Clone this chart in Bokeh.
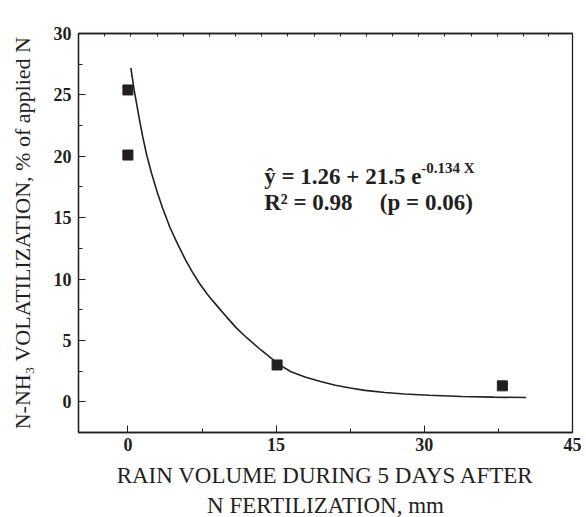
from bokeh.plotting import figure
from bokeh.models import Range1d, LinearAxis, FixedTicker, Label, Title, ColumnDataSource
from bokeh.embed import file_html
from bokeh.resources import INLINE

# ---- data ----
rain_mm = [0.0, 0.0, 15.1, 37.9]
volatilization = [25.4, 20.1, 3.0, 1.3]

curve_x = [0.3, 0.63, 0.9, 1.2, 1.5, 1.9, 2.4, 2.92, 3.5, 4.26, 5.0, 5.87, 6.5, 7.2,
           8.0, 8.62, 9.3, 10.0, 11.0, 12.0, 13.5, 15.27, 16.5, 18.0, 19.5, 21.0,
           22.5, 24.0, 26.0, 28.0, 30.5, 33.8, 37.0, 40.3]
curve_y = [27.2, 25.4, 24.2, 22.85, 21.6, 20.1, 18.6, 17.2, 15.8, 14.2, 12.9, 11.5,
           10.6, 9.7, 8.8, 8.2, 7.55, 6.9, 6.0, 5.24, 4.2, 3.05, 2.45, 2.0, 1.65,
           1.35, 1.12, 0.93, 0.76, 0.63, 0.53, 0.43, 0.38, 0.35]

x_ticks = [0, 15, 30, 45]
x_minor = [7.5, 22.5, 37.5]
y_ticks = [0, 5, 10, 15, 20, 25, 30]
y_minor = [-2.5, 2.5, 7.5, 12.5, 17.5, 22.5, 27.5]
top_ticks = [-2.36, 0.30, 2.98, 5.6, 8.29, 10.9, 13.55, 16.17, 18.86, 21.48,
             24.17, 26.74, 29.44, 32.05, 34.75, 37.4, 40.0, 42.6]

eq_line1 = "ŷ = 1.26 + 21.5 e"
eq_exp = "-0.134 X"
eq_r2 = "R² = 0.98"
eq_p = "(p = 0.06)"

x_title_line1 = "RAIN VOLUME DURING 5 DAYS AFTER"
x_title_line2 = "N FERTILIZATION, mm"
y_title = "N-NH₃ VOLATILIZATION, % of applied N"

INK = "#231f20"
SERIF = "Liberation Serif"

p = figure(width=586, height=517, x_range=Range1d(-5, 45), y_range=Range1d(-2.5, 30),
           output_backend="svg", toolbar_location=None,
           min_border_left=78, min_border_right=14, min_border_top=33, min_border_bottom=85)
p.grid.visible = False
p.background_fill_color = "white"
p.border_fill_color = "white"
p.outline_line_color = INK
p.outline_line_width = 1.3

for ax in (p.xaxis[0], p.yaxis[0]):
    ax.axis_line_color = INK
    ax.axis_line_width = 1.3
    ax.major_tick_line_color = INK
    ax.minor_tick_line_color = INK
    ax.major_tick_in = 7
    ax.major_tick_out = 0
    ax.minor_tick_in = 4
    ax.minor_tick_out = 0
    ax.major_label_text_font = SERIF
    ax.major_label_text_font_style = "bold"
    ax.major_label_text_font_size = "18px"
    ax.major_label_text_color = INK
    ax.axis_label_text_font = SERIF
    ax.axis_label_text_font_style = "normal"
    ax.axis_label_text_color = INK

p.xaxis.ticker = FixedTicker(ticks=x_ticks, minor_ticks=x_minor)
p.yaxis.ticker = FixedTicker(ticks=y_ticks, minor_ticks=y_minor)
p.xaxis.axis_label = x_title_line1
p.xaxis.axis_label_text_font_size = "23px"
p.xaxis.axis_label_text_line_height = 1.0
p.xaxis.major_label_standoff = 5
p.xaxis.axis_label_standoff = 9
p.yaxis.axis_label = y_title
p.yaxis.axis_label_text_font_size = "22px"
p.yaxis.major_label_standoff = 7
p.yaxis.axis_label_standoff = 16

top = LinearAxis(ticker=FixedTicker(ticks=top_ticks, minor_ticks=[]),
                 major_tick_in=3, major_tick_out=0, major_label_text_font_size="1px",
                 major_label_text_color=None, major_label_standoff=0,
                 axis_line_color=INK, axis_line_width=1.3, major_tick_line_color=INK)
p.add_layout(top, "above")

# second line of the x-axis title
p.add_layout(Title(text=x_title_line2, align="center", text_font=SERIF, text_font_size="23px",
                   text_font_style="normal", text_color=INK, text_line_height=1.0,
                   standoff=0, offset=0), "below")

p.line(curve_x, curve_y, line_color=INK, line_width=1.6)
src = ColumnDataSource(dict(x=rain_mm, y=volatilization))
p.scatter("x", "y", source=src, marker="square", size=10, fill_color=INK, line_color=INK)

common = dict(text_font=SERIF, text_font_style="bold", text_color=INK, text_baseline="alphabetic")
p.add_layout(Label(x=13.8, y=18.36, text=eq_line1, text_font_size="23px", **common))
p.add_layout(Label(x=13.8, y=19.07, x_offset=157, text=eq_exp, text_font_size="15px", **common))
p.add_layout(Label(x=13.8, y=16.27, text=eq_r2, text_font_size="23px", **common))
p.add_layout(Label(x=25.5, y=16.27, text=eq_p, text_font_size="23px", **common))

open("out.html", "w").write(file_html(p, INLINE))
